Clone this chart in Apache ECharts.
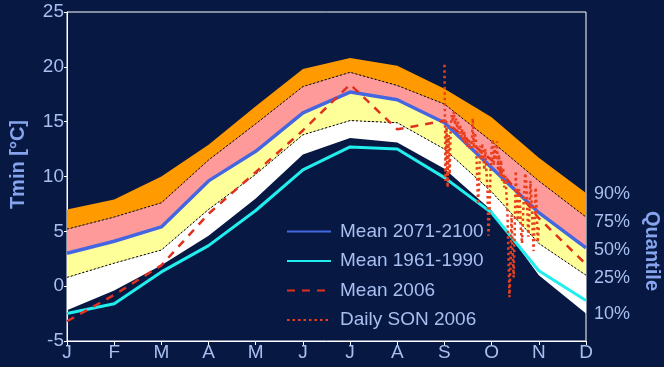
<!DOCTYPE html>
<html><head><meta charset="utf-8">
<script src="https://cdn.jsdelivr.net/npm/echarts@6/dist/echarts.min.js"></script>
<style>html,body{margin:0;padding:0;background:#071843;}#c{width:664px;height:367px;}</style>
</head><body><div id="c"></div>
<script>
const months = ['J','F','M','A','M','J','J','A','S','O','N','D'];
const yTicks = [-5, 0, 5, 10, 15, 20, 25];
const q90 = [7.0, 7.9, 10.0, 12.9, 16.4, 19.8, 20.8, 20.1, 18.0, 15.4, 11.7, 8.5];
const q75 = [5.2, 6.3, 7.6, 11.5, 14.8, 18.2, 19.5, 18.3, 16.6, 13.2, 9.6, 6.3];
const q50 = [3.0, 4.1, 5.4, 9.6, 12.3, 15.8, 17.7, 17.0, 14.9, 10.8, 6.7, 3.5];
const q25 = [0.8, 2.1, 3.3, 7.0, 10.2, 13.8, 15.1, 14.9, 12.5, 8.6, 3.9, 1.0];
const q10 = [-2.2, -0.4, 1.9, 4.6, 8.0, 12.0, 13.5, 13.1, 10.7, 6.9, 1.0, -2.5];
const quantileLabels = ['10%', '25%', '50%', '75%', '90%'];
const mean2071 = [3.0, 4.1, 5.4, 9.6, 12.3, 15.8, 17.7, 17.0, 14.9, 10.8, 6.7, 3.5];
const mean1961 = [-2.5, -1.6, 1.3, 3.7, 6.9, 10.6, 12.7, 12.5, 9.9, 6.7, 1.4, -1.3];
const mean2006 = [-3.2, -0.8, 1.9, 6.6, 10.4, 14.2, 18.4, 14.3, 15.1, 11.5, 6.2, 2.0];
const dailySON2006 = [
  20.2, 9.6, 14.5, 9.0, 13.8, 10.2, 14.6, 15.6, 15.0, 15.9, 14.7, 15.3, 14.4, 15.0, 13.9,
  14.7, 13.6, 14.3, 13.2, 14.1, 12.9, 13.6, 12.7, 13.3, 12.5, 13.1, 12.6, 15.3, 12.6, 14.0,
  13.4, 10.5, 7.5, 9.2, 12.8, 11.5, 13.0, 12.0, 10.6, 12.5, 10.5, 9.0, 4.6, 7.0, 10.5, 12.5,
  13.4, 11.0, 12.8, 11.5, 13.2, 11.0, 12.0, 10.0, 11.5, 9.6, 10.8, 9.0, 10.2, 8.5, 7.1,
  3.0, -1.0, 2.0, 6.5, 3.2, 0.8, 5.0, 10.5, 8.0, 6.0, 9.0, 7.5, 5.0, 3.9, 6.5, 8.5, 10.3,
  9.6, 7.0, 4.5, 6.6, 9.6, 8.0, 5.5, 3.2, 6.0, 9.0, 7.0, 4.0, 5.5
];
const daysPerMonthTick = 45; // daily axis: Sep 1 at 'S', Nov 30 at 'N'

const txt = '#a8bff0';
const font = 'Liberation Sans, Arial, sans-serif';
const diff = (a, b) => a.map((v, i) => +(v - b[i]).toFixed(2));

function bandSeries(name, data, color, line, label, off) {
  return {
    name: name, type: 'line', stack: 'q', stackStrategy: 'all', data: data, symbol: 'none', silent: true,
    lineStyle: line ? {color: '#000', width: 1, type: [2, 2]} : {width: 0, opacity: 0},
    areaStyle: color ? {color: color, opacity: 1} : undefined,
    endLabel: {show: true, formatter: label, color: txt, fontSize: 18, fontFamily: font, distance: 8, offset: off},
    z: 1
  };
}

const chart = echarts.init(document.getElementById('c'), null, {renderer: 'canvas'});
chart.setOption({
  backgroundColor: '#071843',
  animation: false,
  grid: {left: 67, right: 78, top: 12, bottom: 26, show: true, borderColor: '#ffffff', borderWidth: 1},
  legend: {
    orient: 'vertical', left: 286, top: 222, padding: 0, itemWidth: 44, itemHeight: 14, itemGap: 10.5,
    data: ['Mean 2071-2100', 'Mean 1961-1990', 'Mean 2006', 'Daily SON 2006'],
    itemStyle: {opacity: 0},
    textStyle: {color: txt, fontSize: 19, fontFamily: font, padding: [0, 0, 0, 4]},
    selectedMode: false
  },
  xAxis: [{
    type: 'category', data: months, boundaryGap: false,
    axisLine: {onZero: false, lineStyle: {color: '#fff', width: 1}},
    axisTick: {show: true, length: 4, lineStyle: {color: '#fff'}},
    axisLabel: {interval: 0, color: txt, fontSize: 19, fontFamily: font, margin: 2},
    splitLine: {show: false}
  }, {
    type: 'value', show: false,
    min: -8 * daysPerMonthTick, max: 3 * daysPerMonthTick,
    axisLine: {onZero: false}
  }],
  yAxis: {
    type: 'value', min: yTicks[0], max: yTicks[yTicks.length - 1], interval: 5,
    axisLine: {show: true, onZero: false, lineStyle: {color: '#fff', width: 1}},
    axisTick: {show: true, length: 3, lineStyle: {color: '#fff'}},
    axisLabel: {color: txt, fontSize: 19, fontFamily: font, margin: 3},
    splitLine: {show: false}
  },
  graphic: [
    {type: 'text', left: 8, top: 120, rotation: Math.PI / 2,
     style: {text: 'Tmin [°C]', fill: '#86a4ec', font: 'bold 20px ' + font}},
    {type: 'text', left: 642, top: 211, rotation: -Math.PI / 2,
     style: {text: 'Quantile', fill: '#86a4ec', font: 'bold 20px ' + font}}
  ],
  series: [
    bandSeries('q10', q10, null, false, quantileLabels[0], [0, 0]),
    bandSeries('q25', diff(q25, q10), '#ffffff', true, quantileLabels[1], [0, 3]),
    bandSeries('q50', diff(q50, q25), '#ffff99', false, quantileLabels[2], [0, 2]),
    bandSeries('q75', diff(q75, q50), '#ff9a9a', true, quantileLabels[3], [0, 5]),
    bandSeries('q90', diff(q90, q75), '#ff9a00', false, quantileLabels[4], [0, 1]),
    {name: 'Mean 2071-2100', type: 'line', data: mean2071, symbol: 'none', z: 3,
     lineStyle: {color: '#4466e0', width: 3.5}, itemStyle: {color: '#4466e0'}},
    {name: 'Mean 1961-1990', type: 'line', data: mean1961, symbol: 'none', z: 3,
     lineStyle: {color: '#22eeee', width: 3}, itemStyle: {color: '#22eeee'}},
    {name: 'Mean 2006', type: 'line', data: mean2006, symbol: 'none', z: 4,
     lineStyle: {color: '#e0301e', width: 2.5, type: [8, 7]}, itemStyle: {color: '#e0301e'}},
    {name: 'Daily SON 2006', type: 'line', xAxisIndex: 1, z: 5, symbol: 'none',
     data: dailySON2006.map((v, i) => [i, v]),
     lineStyle: {color: '#e8401e', width: 2.5, type: [2.5, 3]}, itemStyle: {color: '#e8401e'}}
  ]
});
</script></body></html>
